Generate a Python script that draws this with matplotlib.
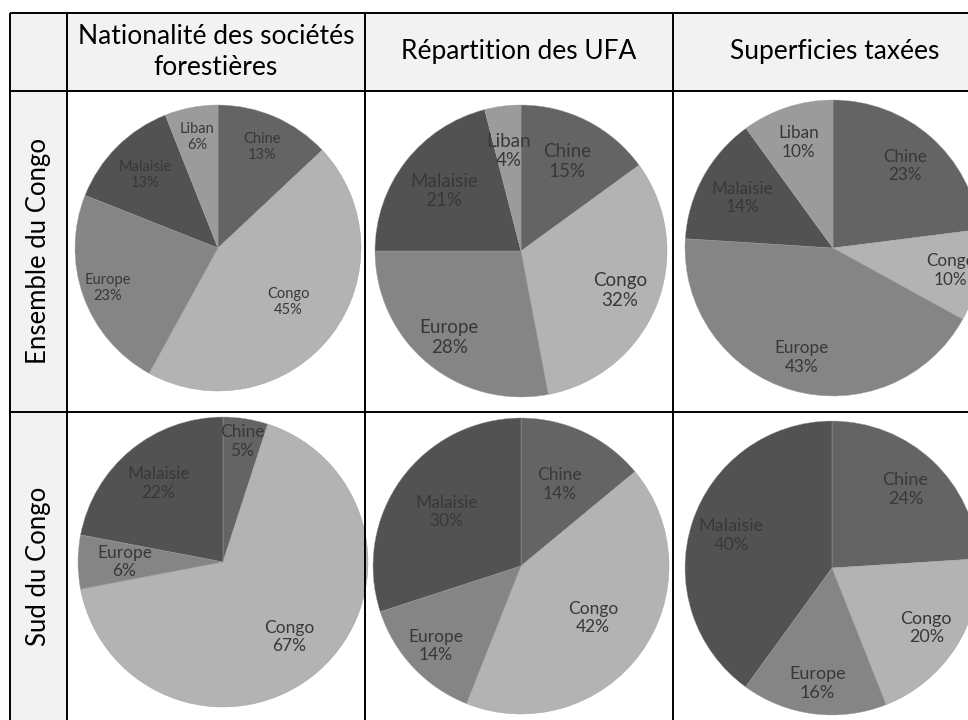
import matplotlib.pyplot as plt
from matplotlib.patches import Rectangle
import numpy as np

# data
cats_ensemble = ["Chine", "Congo", "Europe", "Malaisie", "Liban"]
cats_sud = ["Chine", "Congo", "Europe", "Malaisie"]

ensemble_nationalite = [13, 45, 23, 13, 6]
ensemble_ufa = [15, 32, 28, 21, 4]
ensemble_superficies = [23, 10, 43, 14, 10]

sud_nationalite = [5, 67, 6, 22]
sud_ufa = [14, 42, 14, 30]
sud_superficies = [24, 20, 16, 40]

col_titles = ["Nationalité des sociétés\nforestières", "Répartition des UFA", "Superficies taxées"]
row_titles = ["Ensemble du Congo", "Sud du Congo"]

colors = {"Chine": "#646464", "Congo": "#b3b3b3", "Europe": "#858585",
          "Malaisie": "#525252", "Liban": "#9b9b9b"}

W, H = 968, 720
plt.rcParams['font.family'] = ['Lato', 'DejaVu Sans']

fig = plt.figure(figsize=(W / 100, H / 100), dpi=100)

# table background (pixel coordinates, y down)
bg = fig.add_axes([0, 0, 1, 1])
bg.set_xlim(0, W)
bg.set_ylim(H, 0)
bg.axis('off')
x_left, x_c1, x_c2, x_c3 = 10, 67, 365, 673
y_top, y_r1, y_r2 = 13, 91, 412
bg.add_patch(Rectangle((x_left, y_top), W - x_left, y_r1 - y_top, color='#f2f2f2', lw=0))
bg.add_patch(Rectangle((x_left, y_r1), x_c1 - x_left, H - y_r1, color='#f2f2f2', lw=0))


def pie_cell(cx, cy, r, cats, vals, dists, fsize):
    ax = fig.add_axes([(cx - r) / W, 1 - (cy + r) / H, 2 * r / W, 2 * r / H])
    wedges, _ = ax.pie(vals, colors=[colors[c] for c in cats], startangle=90,
                       counterclock=False, radius=1,
                       wedgeprops=dict(linewidth=0.3, edgecolor='#a0a0a0'))
    for w, c, v, d in zip(wedges, cats, vals, dists):
        ang = np.deg2rad((w.theta1 + w.theta2) / 2)
        ax.text(d * np.cos(ang), d * np.sin(ang), f"{c}\n{v}%", ha='center', va='center',
                fontsize=fsize, color='#383838', linespacing=1.2)
    ax.set_xlim(-1, 1)
    ax.set_ylim(-1, 1)
    ax.set_aspect('equal')
    ax.axis('off')
    return ax


pie_cell(218, 248, 143, cats_ensemble, ensemble_nationalite, [0.77, 0.62, 0.82, 0.72, 0.79], 10.5)
pie_cell(521, 251, 146, cats_ensemble, ensemble_ufa, [0.69, 0.73, 0.77, 0.67, 0.69], 13.5)
pie_cell(833, 248, 148, cats_ensemble, ensemble_superficies, [0.74, 0.81, 0.77, 0.70, 0.75], 12.3)
pie_cell(223, 562, 145, cats_sud, sud_nationalite, [0.84, 0.69, 0.68, 0.70], 12.5)
pie_cell(521, 566, 148, cats_sud, sud_ufa, [0.61, 0.60, 0.79, 0.62], 12.5)
pie_cell(832, 568, 147, cats_sud, sud_superficies, [0.73, 0.76, 0.79, 0.72], 13)

# grid lines and headers on top
top = fig.add_axes([0, 0, 1, 1])
top.set_xlim(0, W)
top.set_ylim(H, 0)
top.axis('off')
lw = 1.4
for y in [y_top, y_r1, y_r2]:
    top.plot([x_left, W], [y, y], color='black', lw=lw, solid_capstyle='butt')
for x in [x_left, x_c1, x_c2, x_c3]:
    top.plot([x, x], [y_top, H], color='black', lw=lw, solid_capstyle='butt')

col_centers = [(x_c1 + x_c2) / 2, (x_c2 + x_c3) / 2, 835]
for xc, t in zip(col_centers, col_titles):
    top.text(xc, (y_top + y_r1) / 2, t, ha='center', va='center', fontsize=19,
             color='black', linespacing=1.3)
for (y0, y1), t in zip([(y_r1, y_r2), (y_r2, H)], row_titles):
    top.text((x_left + x_c1) / 2, (y0 + y1) / 2, t, ha='center', va='center',
             rotation=90, fontsize=18.5, color='black')

fig.savefig('out.png', dpi=100)
